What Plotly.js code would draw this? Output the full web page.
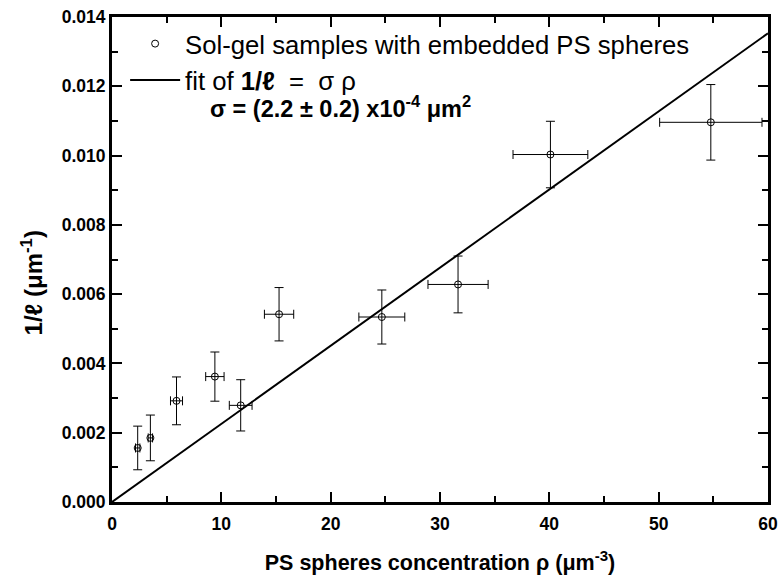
<!DOCTYPE html>
<html>
<head>
<meta charset="utf-8">
<script src="https://cdn.plot.ly/plotly-3.0.1.min.js"></script>
<style>html,body{margin:0;padding:0;background:#fff;}#chart{width:778px;height:575px;}</style>
</head>
<body>
<div id="chart"></div>
<script>
// Data
const rho      = [2.35, 3.51, 5.9, 9.41, 11.77, 15.28, 24.68, 31.65, 40.1, 54.77];
const rhoErr   = [0.2, 0.2, 0.55, 0.84, 1.04, 1.34, 2.1, 2.75, 3.42, 4.68];
const invL     = [0.00156, 0.00185, 0.00292, 0.00362, 0.00279, 0.00542, 0.00534, 0.00628, 0.01003, 0.01096];
const invLErr  = [0.00063, 0.00066, 0.00069, 0.00071, 0.00074, 0.00077, 0.00078, 0.00082, 0.00096, 0.00109];
const sigma = 2.255e-4;
const fitX = [0, 60];
const fitY = fitX.map(v => sigma * v);

const xTitle = '<b>PS spheres concentration ρ (μm<sup>-3</sup>)</b>';
const yTitle = '<b>1/ℓ (μm<sup>-1</sup>)</b>';
const sigmaText = '<b>σ = (2.2 ± 0.2) x10<sup>-4</sup> μm<sup>2</sup></b>';

const F = 'Arial, "Liberation Sans", sans-serif';

const data = [
  {
    x: rho, y: invL, type: 'scatter', mode: 'markers',
    name: 'Sol-gel samples with embedded PS spheres',
    marker: {symbol: 'circle-open', size: 7, color: '#000', line: {width: 1, color: '#000'}},
    error_x: {type: 'data', array: rhoErr, visible: true, color: '#000', thickness: 1, width: 4.5},
    error_y: {type: 'data', array: invLErr, visible: true, color: '#000', thickness: 1, width: 4.5}
  },
  {
    x: fitX, y: fitY, type: 'scatter', mode: 'lines',
    name: 'fit of <b>1/ℓ</b>  =  σ ρ',
    line: {color: '#000', width: 2}
  }
];

const axCommon = {
  showline: true, linewidth: 3, linecolor: '#000', mirror: 'ticks',
  ticks: 'inside', ticklen: 10, tickwidth: 2, tickcolor: '#000',
  showgrid: false, zeroline: false,
  tickfont: {family: F, size: 17.5, color: '#000', weight: 'bold'}
};

const layout = {
  width: 778, height: 575,
  margin: {l: 112, r: 10, t: 17, b: 73},
  paper_bgcolor: '#fff', plot_bgcolor: '#fff',
  showlegend: true,
  legend: {x: 0.02, y: 0.993, xanchor: 'left', yanchor: 'top', bgcolor: 'rgba(0,0,0,0)',
           font: {family: F, size: 25.7, color: '#000'}, itemwidth: 50, tracegroupgap: 0},
  xaxis: Object.assign({}, axCommon, {
    range: [0, 60], dtick: 10, tick0: 0, ticklabelstandoff: 4,
    minor: {dtick: 5, ticks: 'inside', ticklen: 6, tickwidth: 2, tickcolor: '#000'},
    title: {text: xTitle, font: {family: F, size: 21.5, color: '#000'}, standoff: 22}
  }),
  yaxis: Object.assign({}, axCommon, {
    range: [0, 0.014], dtick: 0.002, tick0: 0, tickformat: '.3f',
    minor: {dtick: 0.001, ticks: 'inside', ticklen: 6, tickwidth: 2, tickcolor: '#000'}
  }),
  annotations: [
    {xref: 'paper', yref: 'paper', x: 0.147, y: 0.815, xanchor: 'left', yanchor: 'middle',
     text: sigmaText, showarrow: false,
     font: {family: F, size: 23.5, color: '#000'}},
    {xref: 'paper', yref: 'paper', x: -0.122, y: 0.4527, xanchor: 'center', yanchor: 'middle',
     textangle: -90, text: yTitle, showarrow: false,
     font: {family: F, size: 24, color: '#000'}}
  ]
};

Plotly.newPlot('chart', data, layout, {displayModeBar: false, staticPlot: true});
</script>
</body>
</html>
